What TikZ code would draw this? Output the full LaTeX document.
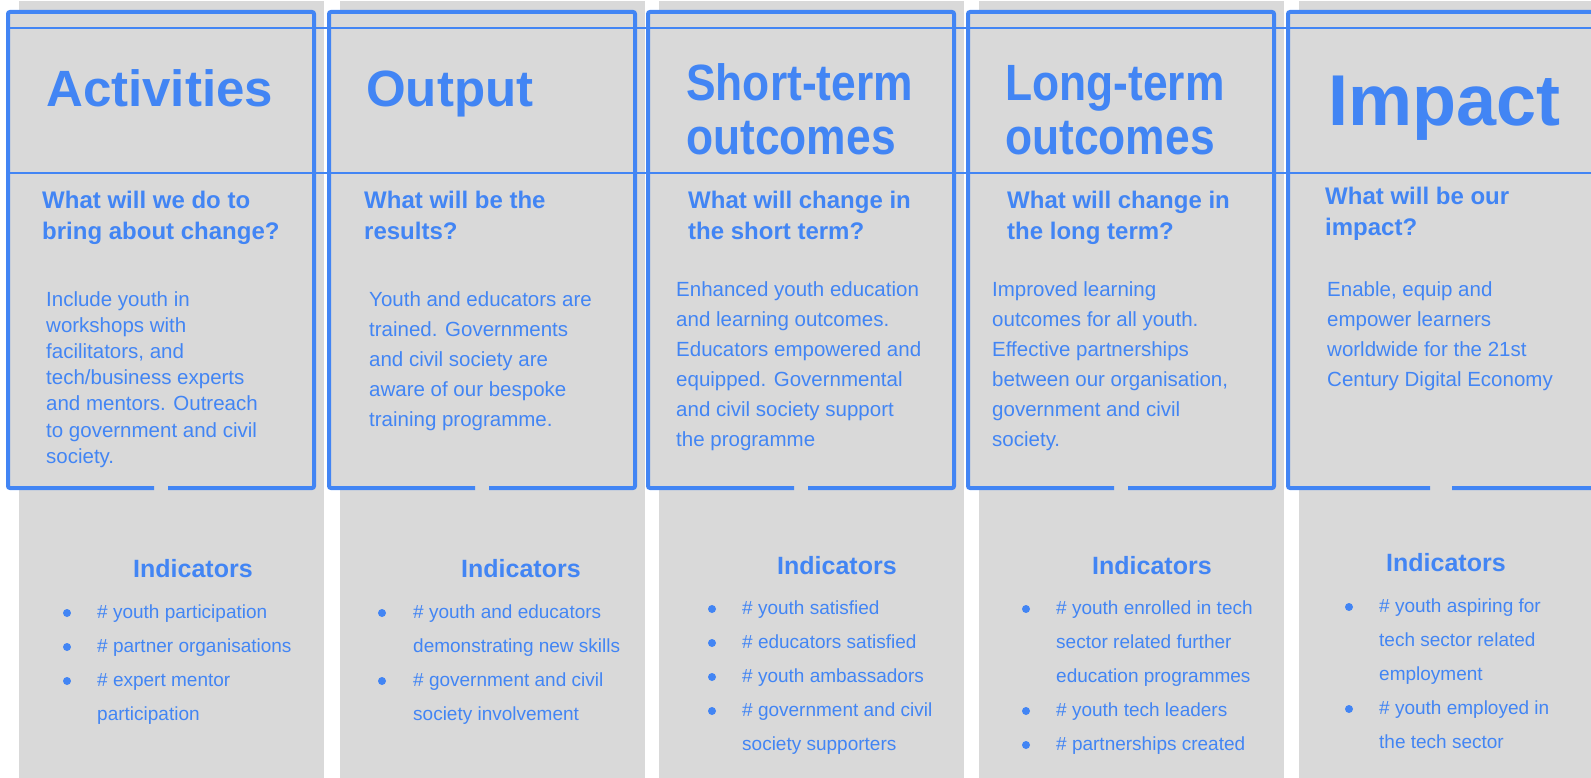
\documentclass[tikz,border=0pt]{standalone}
\usepackage{fontspec}
\setmainfont{Liberation Sans}
\usepackage{tikz}
\usetikzlibrary{positioning, calc}
\definecolor{gblue}{HTML}{4285F4}
\definecolor{ggrey}{HTML}{D9D9D9}
\newcommand{\lines}[1]{\parbox[t]{320pt}{\raggedright #1}}

\begin{document}
\begin{tikzpicture}[x=1pt, y=-1pt,
  colbg/.style={fill=ggrey},
  frame/.style={draw=gblue, line width=4pt, rounded corners=2pt},
  rule/.style={draw=gblue, line width=2pt},
  txt/.style={anchor=base west, inner sep=0pt, text=gblue},
  title/.style={txt, font=\bfseries\fontsize{51}{53.5}\selectfont},
  question/.style={txt, font=\bfseries\fontsize{24}{31}\selectfont},
  body/.style={txt, font=\fontsize{20.5}{30}\selectfont},
  indhead/.style={txt, font=\bfseries\fontsize{25}{30}\selectfont},
  indlist/.style={txt, font=\fontsize{19}{34}\selectfont},
  dot/.style={circle, fill=gblue, inner sep=0pt, minimum size=8pt}]
  \useasboundingbox (0,0) rectangle (1591,778);
  \clip (0,0) rectangle (1591,778);

  % columns and framed boxes
  \foreach \x/\g in {8/7, 329/7, 648/7, 968/7, 1288/11} {
    \fill[colbg] (\x+11,1) rectangle (\x+316,778);
    \fill[colbg] (\x,12) rectangle (\x+306,488);
    \draw[frame] (\x+153+\g,488) -- (\x+306,488) -- (\x+306,12) -- (\x,12)
      -- (\x,488) -- (\x+153-\g,488);
  }
  \draw[rule] (8,28) -- (1591,28);
  \draw[rule] (8,173) -- (1591,173);

  % titles
  \node[title] (act) at (46,107) {Activities};
  \node[title] (outp) at (366,107) {Output};
  \node[title] (short) at (686,101) {\scalebox{0.87}[1]{\lines{Short-term\\outcomes}}};
  \node[title] (long) at (1005,101) {\scalebox{0.87}[1]{\lines{Long-term\\outcomes}}};
  \node[title, font=\bfseries\fontsize{72}{72}\selectfont] (imp) at (1328,126) {Impact};

  % questions
  \node[question] (actq) at (42,209) {\lines{What will we do to\\bring about change?}};
  \node[question] (outpq) at (364,209) {\lines{What will be the\\results?}};
  \node[question] (shortq) at (688,209) {\lines{What will change in\\the short term?}};
  \node[question] (longq) at (1007,209) {\lines{What will change in\\the long term?}};
  \node[question] (impq) at (1325,205) {\lines{What will be our\\impact?}};

  % descriptions
  \node[body, font=\fontsize{20.5}{26.2}\selectfont] (actd) at (46,306) {\lines{Include youth in\\workshops with\\facilitators, and\\tech/business experts\\and mentors. Outreach\\to government and civil\\society.}};
  \node[body] (outpd) at (369,306) {\lines{Youth and educators are\\trained. Governments\\and civil society are\\aware of our bespoke\\training programme.}};
  \node[body] (shortd) at (676,297) {\lines{Enhanced youth education\\and learning outcomes.\\Educators empowered and\\equipped. Governmental\\and civil society support\\the programme}};
  \node[body] (longd) at (992,297) {\lines{Improved learning\\outcomes for all youth.\\Effective partnerships\\between our organisation,\\government and civil\\society.}};
  \node[body] (impd) at (1327,297) {\lines{Enable, equip and\\empower learners\\worldwide for the 21st\\Century Digital Economy}};

  % indicators
  \node[indhead] (acth) at (133,577) {Indicators};
  \node[indhead] (outph) at (461,577) {Indicators};
  \node[indhead] (shorth) at (777,574) {Indicators};
  \node[indhead] (longh) at (1092,574) {Indicators};
  \node[indhead] (imph) at (1386,571) {Indicators};

  \node[indlist] (acti) at (97,618) {\lines{\# youth participation\\\# partner organisations\\\# expert mentor\\participation}};
  \node[indlist] (outpi) at (413,618) {\lines{\# youth and educators\\demonstrating new skills\\\# government and civil\\society involvement}};
  \node[indlist] (shorti) at (742,614) {\lines{\# youth satisfied\\\# educators satisfied\\\# youth ambassadors\\\# government and civil\\society supporters}};
  \node[indlist] (longi) at (1056,614) {\lines{\# youth enrolled in tech\\sector related further\\education programmes\\\# youth tech leaders\\\# partnerships created}};
  \node[indlist] (impi) at (1379,612) {\lines{\# youth aspiring for\\tech sector related\\employment\\\# youth employed in\\the tech sector}};

  % bullets
  \foreach \n/\x/\y in {a1/67/613, a2/67/647, a3/67/681,
                        o1/382/613, o2/382/681,
                        s1/712/609, s2/712/643, s3/712/677, s4/712/711,
                        l1/1026/609, l2/1026/711, l3/1026/745,
                        i1/1349/607, i2/1349/709}
    \node[dot] (\n) at (\x,\y) {};
\end{tikzpicture}
\end{document}
